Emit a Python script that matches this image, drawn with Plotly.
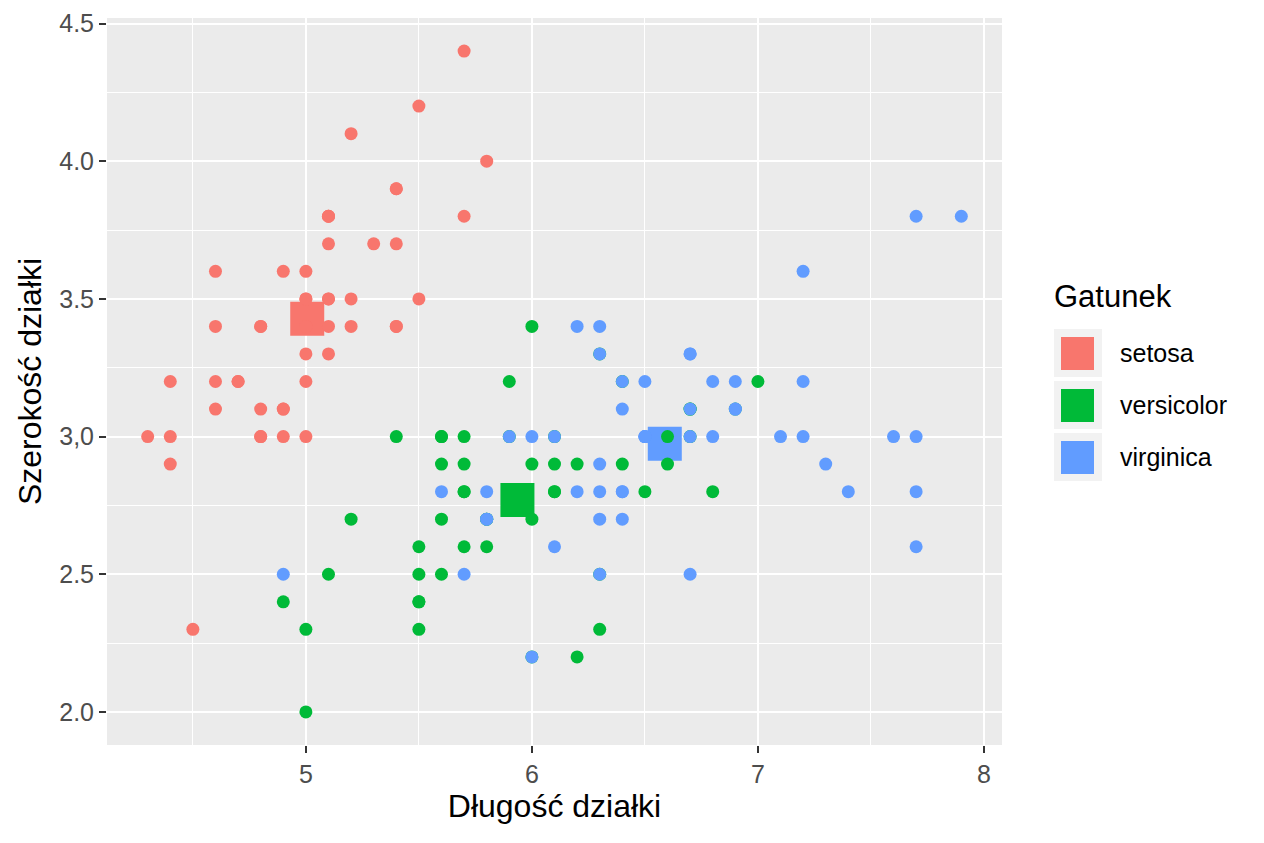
"""
Iris: długość vs szerokość działki, z centroidami gatunków (styl ggplot2)
"""

import plotly.graph_objects as go

# ── dane ─────────────────────────────────────────────
species = ["setosa", "versicolor", "virginica"]
colors = ["#F8766D", "#00BA38", "#619CFF"]

setosa_len = [5.1, 4.9, 4.7, 4.6, 5.0, 5.4, 4.6, 5.0, 4.4, 4.9, 5.4, 4.8, 4.8, 4.3, 5.8, 5.7, 5.4,
              5.1, 5.7, 5.1, 5.4, 5.1, 4.6, 5.1, 4.8, 5.0, 5.0, 5.2, 5.2, 4.7, 4.8, 5.4, 5.2, 5.5,
              4.9, 5.0, 5.5, 4.9, 4.4, 5.1, 5.0, 4.5, 4.4, 5.0, 5.1, 4.8, 5.1, 4.6, 5.3, 5.0]
setosa_wid = [3.5, 3.0, 3.2, 3.1, 3.6, 3.9, 3.4, 3.4, 2.9, 3.1, 3.7, 3.4, 3.0, 3.0, 4.0, 4.4, 3.9,
              3.5, 3.8, 3.8, 3.4, 3.7, 3.6, 3.3, 3.4, 3.0, 3.4, 3.5, 3.4, 3.2, 3.1, 3.4, 4.1, 4.2,
              3.1, 3.2, 3.5, 3.6, 3.0, 3.4, 3.5, 2.3, 3.2, 3.5, 3.8, 3.0, 3.8, 3.2, 3.7, 3.3]

versicolor_len = [7.0, 6.4, 6.9, 5.5, 6.5, 5.7, 6.3, 4.9, 6.6, 5.2, 5.0, 5.9, 6.0, 6.1, 5.6, 6.7,
                  5.6, 5.8, 6.2, 5.6, 5.9, 6.1, 6.3, 6.1, 6.4, 6.6, 6.8, 6.7, 6.0, 5.7, 5.5, 5.5,
                  5.8, 6.0, 5.4, 6.0, 6.7, 6.3, 5.6, 5.5, 5.5, 6.1, 5.8, 5.0, 5.6, 5.7, 5.7, 6.2,
                  5.1, 5.7]
versicolor_wid = [3.2, 3.2, 3.1, 2.3, 2.8, 2.8, 3.3, 2.4, 2.9, 2.7, 2.0, 3.0, 2.2, 2.9, 2.9, 3.1,
                  3.0, 2.7, 2.2, 2.5, 3.2, 2.8, 2.5, 2.8, 2.9, 3.0, 2.8, 3.0, 2.9, 2.6, 2.4, 2.4,
                  2.7, 2.7, 3.0, 3.4, 3.1, 2.3, 3.0, 2.5, 2.6, 3.0, 2.6, 2.3, 2.7, 3.0, 2.9, 2.9,
                  2.5, 2.8]

virginica_len = [6.3, 5.8, 7.1, 6.3, 6.5, 7.6, 4.9, 7.3, 6.7, 7.2, 6.5, 6.4, 6.8, 5.7, 5.8, 6.4,
                 6.5, 7.7, 7.7, 6.0, 6.9, 5.6, 7.7, 6.3, 6.7, 7.2, 6.2, 6.1, 6.4, 7.2, 7.4, 7.9,
                 6.4, 6.3, 6.1, 7.7, 6.3, 6.4, 6.0, 6.9, 6.7, 6.9, 5.8, 6.8, 6.7, 6.7, 6.3, 6.5,
                 6.2, 5.9]
virginica_wid = [3.3, 2.7, 3.0, 2.9, 3.0, 3.0, 2.5, 2.9, 2.5, 3.6, 3.2, 2.7, 3.0, 2.5, 2.8, 3.2,
                 3.0, 3.8, 2.6, 2.2, 3.2, 2.8, 2.8, 2.7, 3.3, 3.2, 2.8, 3.0, 2.8, 3.0, 2.8, 3.8,
                 2.8, 2.8, 2.6, 3.0, 3.4, 3.1, 3.0, 3.1, 3.1, 3.1, 2.7, 3.2, 3.3, 3.0, 2.5, 3.0,
                 3.4, 3.0]

x_ticks = [5, 6, 7, 8]
x_ticktext = ["5", "6", "7", "8"]
y_ticks = [2.0, 2.5, 3.0, 3.5, 4.0, 4.5]
y_ticktext = ["2.0", "2.5", "3,0", "3.5", "4.0", "4.5"]

lengths = [setosa_len, versicolor_len, virginica_len]
widths = [setosa_wid, versicolor_wid, virginica_wid]

# ── geometria (piksele ekranu; strona ma 8 px marginesu body) ──
OFF = 8
SCR_W, SCR_H = 1264, 843
P_LEFT, P_RIGHT, P_TOP, P_BOTTOM = 107, 1002, 18, 745
W, H = SCR_W - 2 * OFF, SCR_H - 2 * OFF
plot_w, plot_h = P_RIGHT - P_LEFT, P_BOTTOM - P_TOP
FONT = "Liberation Sans, Arial, sans-serif"


def px(x):
    return (x - P_LEFT) / plot_w


def py(y):
    return (P_BOTTOM - y) / plot_h


fig = go.Figure()

# centroidy (pod punktami)
for name, col, xs, ys in zip(species, colors, lengths, widths):
    fig.add_trace(go.Scatter(
        x=[sum(xs) / len(xs)], y=[sum(ys) / len(ys)], mode="markers", showlegend=False,
        marker=dict(color=col, size=34, symbol="square", line=dict(width=0)),
    ))

for name, col, xs, ys in zip(species, colors, lengths, widths):
    fig.add_trace(go.Scatter(
        x=xs, y=ys, mode="markers", name=name, showlegend=False,
        marker=dict(color=col, size=13, line=dict(width=0)),
    ))

# ── legenda ręczna (jak w ggplot2) ──────────────────
shapes = []
annotations = [dict(
    text="Gatunek", x=px(1052), y=py(296), xref="paper", yref="paper",
    xanchor="left", yanchor="middle", showarrow=False,
    font=dict(size=31, color="black", family=FONT),
)]
for i, (name, col) in enumerate(zip(species, colors)):
    top = 329 + i * 52
    shapes.append(dict(type="rect", xref="paper", yref="paper",
                       x0=px(1054), x1=px(1102), y0=py(top + 48), y1=py(top),
                       fillcolor="#F2F2F2", line=dict(width=0), layer="below"))
    shapes.append(dict(type="rect", xref="paper", yref="paper",
                       x0=px(1061), x1=px(1094), y0=py(top + 41), y1=py(top + 8),
                       fillcolor=col, line=dict(width=0)))
    annotations.append(dict(
        text=name, x=px(1118), y=py(top + 24), xref="paper", yref="paper",
        xanchor="left", yanchor="middle", showarrow=False,
        font=dict(size=25, color="black", family=FONT),
    ))

axis_common = dict(
    showgrid=True, gridcolor="white", gridwidth=2, zeroline=False,
    ticks="outside", ticklen=7, tickwidth=2, tickcolor="#333333",
    tickfont=dict(size=25, color="#4D4D4D", family=FONT),
    showline=False, automargin=False,
)

fig.update_layout(
    width=W, height=H,
    margin=dict(l=P_LEFT - OFF, r=SCR_W - OFF - P_RIGHT, t=P_TOP - OFF, b=SCR_H - OFF - P_BOTTOM),
    paper_bgcolor="white", plot_bgcolor="#EBEBEB",
    font=dict(family=FONT),
    shapes=shapes, annotations=annotations,
    xaxis=dict(
        axis_common, range=[4.12, 8.08], tickvals=x_ticks, ticktext=x_ticktext,
        minor=dict(dtick=0.5, tick0=4.5, showgrid=True, gridcolor="white", gridwidth=1),
        title=dict(text="Długość działki", font=dict(size=32, color="black", family=FONT), standoff=6),
    ),
    yaxis=dict(
        axis_common, range=[1.88, 4.52], tickvals=y_ticks, ticktext=y_ticktext,
        minor=dict(dtick=0.5, tick0=2.25, showgrid=True, gridcolor="white", gridwidth=1),
        title=dict(text="Szerokość działki", font=dict(size=32, color="black", family=FONT), standoff=8),
    ),
)

fig.write_html("out.html")
